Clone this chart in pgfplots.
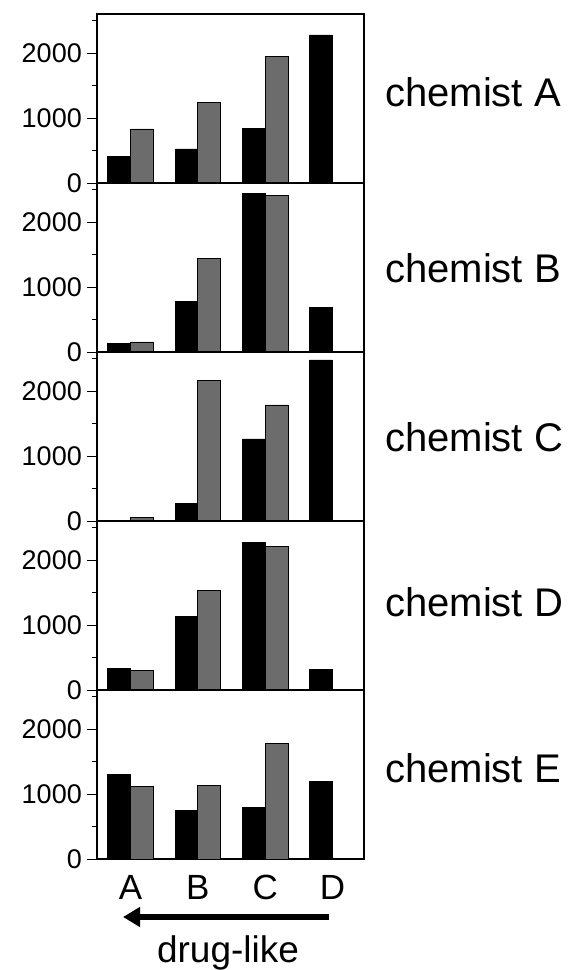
\documentclass[border=0pt]{standalone}
\usepackage{pgfplots}
\pgfplotsset{compat=1.18}
\usepackage{fontspec}
\setmainfont{Liberation Sans}
\usetikzlibrary{arrows.meta}

\definecolor{bargray}{RGB}{108,108,108}

\pgfplotsset{
    panel/.style={
        scale only axis,
        width=267pt, height=169pt,
        xmin=-0.5, xmax=3.47,
        ymin=0, ymax=2600,
        ytick={0,1000,2000},
        minor ytick={500,1500,2500},
        xtick={0,1,2,3},
        xticklabels={},
        xtick style={draw=none},
        tick align=outside,
        tickpos=left,
        major tick length=10pt,
        minor tick length=5pt,
        every tick/.style={black, line width=0.8pt},
        axis line style={line width=1.2pt},
        y tick label style={font=\fontsize{27}{27}\selectfont, inner sep=5pt},
        /pgf/number format/assume math mode=true,
        /pgf/number format/1000 sep={},
        anchor=north west,
    },
    blk/.style={ybar, bar width=0.34, bar shift=-0.17, fill=black, draw=black, line width=0.8pt},
    gry/.style={ybar, bar width=0.34, bar shift=0.17, fill=bargray, draw=black, line width=0.8pt},
}

\begin{document}
\begin{tikzpicture}
\useasboundingbox (0pt,0pt) rectangle (576pt,970pt);

% chemist A
\begin{axis}[panel, at={(97pt,956pt)}]
    \addplot [blk] coordinates {(0,410) (1,523) (2,841) (3,2277)};
    \addplot [gry] coordinates {(0,831) (1,1241) (2,1949)};
\end{axis}

% chemist B
\begin{axis}[panel, at={(97pt,787pt)}]
    \addplot [blk] coordinates {(0,128) (1,779) (2,2436) (3,682)};
    \addplot [gry] coordinates {(0,154) (1,1436) (2,2415)};
\end{axis}

% chemist C
\begin{axis}[panel, at={(97pt,618pt)}]
    \addplot [blk] coordinates {(0,15) (1,267) (2,1262) (3,2477)};
    \addplot [gry] coordinates {(0,51) (1,2164) (2,1785)};
\end{axis}

% chemist D
\begin{axis}[panel, at={(97pt,449pt)}]
    \addplot [blk] coordinates {(0,325) (1,1137) (2,2264) (3,310)};
    \addplot [gry] coordinates {(0,300) (1,1530) (2,2202)};
\end{axis}

% chemist E
\begin{axis}[panel, at={(97pt,280pt)},
        xticklabels={A,B,C,D},
        xticklabel style={font=\fontsize{35}{35}\selectfont, anchor=center, yshift=-18pt}]
    \addplot [blk] coordinates {(0,1294) (1,747) (2,798) (3,1192)};
    \addplot [gry] coordinates {(0,1110) (1,1130) (2,1775)};
\end{axis}

\begin{scope}[font=\fontsize{40}{40}\selectfont]
    \node[anchor=west, inner sep=0pt] at (385pt,878pt) {chemist A};
    \node[anchor=west, inner sep=0pt] at (385pt,702pt) {chemist B};
    \node[anchor=west, inner sep=0pt] at (385pt,533pt) {chemist C};
    \node[anchor=west, inner sep=0pt] at (385pt,368pt) {chemist D};
    \node[anchor=west, inner sep=0pt] at (385pt,202pt) {chemist E};
\end{scope}

\draw[line width=6pt, -{Triangle[length=17pt,width=19pt]}] (329pt,53pt) -- (123pt,53pt);
\node[anchor=base, inner sep=0pt, font=\fontsize{37}{37}\selectfont] at (228pt,8pt) {drug-like};
\end{tikzpicture}
\end{document}
